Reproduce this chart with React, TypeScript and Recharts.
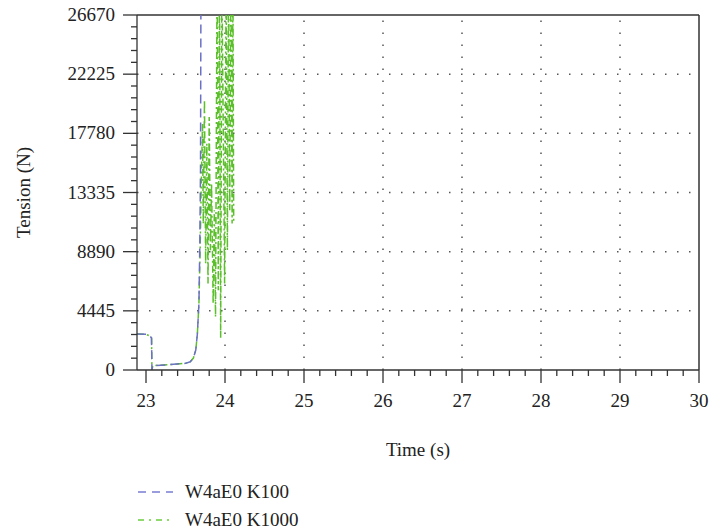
import React from "react";
import { LineChart, Line, XAxis, YAxis, ReferenceLine } from "recharts";

const blueT = [22.886, 23.0, 23.05, 23.07, 23.075, 23.085, 23.3, 23.5, 23.56, 23.6, 23.63, 23.65, 23.67, 23.68, 23.69, 23.7];
const blueV = [2700, 2680, 2560, 2400, 0, 330, 400, 500, 620, 900, 1500, 2700, 5000, 9000, 15000, 40000];

const greenT = [22.886, 23.0, 23.05, 23.07, 23.075, 23.085, 23.3, 23.5, 23.56, 23.6, 23.63, 23.65, 23.67, 23.685, 23.7, 23.715, 23.725, 23.74, 23.755, 23.77, 23.785, 23.8, 23.815, 23.83, 23.85, 23.865, 23.88, 23.9, 23.915, 23.93, 23.945, 23.96, 23.995, 24.015, 24.03, 24.045, 24.06, 24.075, 24.09, 24.1, 24.11];
const greenV = [2700, 2680, 2560, 2400, 0, 330, 400, 500, 620, 900, 1500, 2700, 5000, 9000, 14000, 18500, 11000, 20300, 8000, 17000, 6500, 19000, 9000, 14000, 5000, 12000, 4000, 30000, 6000, 30000, 2400, 30000, 6500, 30000, 9000, 30000, 12000, 30000, 11000, 30000, 11200];

const xTicks = Array.from({ length: 36 }, (_, i) => Math.round((23 + i * 0.2) * 10) / 10);
const yTicks = Array.from({ length: 31 }, (_, i) => i * 889);
const xGrid = [24, 25, 26, 27, 28, 29];
const yGrid = [4445, 8890, 13335, 17780, 22225];

const seriesNames = ["W4aE0 K100", "W4aE0 K1000"];
const blueData = blueT.map((t, i) => ({ t, v: blueV[i] }));
const greenData = greenT.map((t, i) => ({ t, v: greenV[i] }));

const FONT = "Liberation Serif";
const AX = "#333";
const BLUE = "#6c70c4";
const GREEN = "#5bbf2b";

const XTick = (props: any) => {
  const { x, y, payload } = props;
  const v = payload.value;
  const major = Math.abs(v - Math.round(v)) < 1e-6;
  return (
    <g>
      <line x1={x} y1={y} x2={x} y2={y + (major ? 13 : 6)} stroke={AX} strokeWidth={1.3} />
      {major && (
        <text x={x} y={y + 37} textAnchor="middle" fontFamily={FONT} fontSize={19} fill="#222">
          {Math.round(v)}
        </text>
      )}
    </g>
  );
};

const YTick = (props: any) => {
  const { x, y, payload } = props;
  const v = payload.value;
  const major = Math.round(v / 889) % 5 === 0;
  return (
    <g>
      <line x1={x} y1={y} x2={x - (major ? 14 : 6)} y2={y} stroke={AX} strokeWidth={1.3} />
      {major && (
        <text x={x - 22} y={y + 6} textAnchor="end" fontFamily={FONT} fontSize={19} fill="#222">
          {v}
        </text>
      )}
    </g>
  );
};

const LegendBox = () => (
  <div style={{ position: "absolute", left: 132, top: 478, fontFamily: FONT, fontSize: 19, color: "#222" }}>
    {[BLUE, GREEN].map((c, i) => (
      <div key={i} style={{ display: "flex", alignItems: "center", height: 28 }}>
        <svg width={53} height={10}>
          <line x1={6} y1={5} x2={41} y2={5} stroke={i === 0 ? "#7a7ed2" : "#6ccd3e"} strokeWidth={1.6} strokeDasharray={i === 0 ? "8 6" : "6 5 2 5"} />
        </svg>
        <span>{seriesNames[i]}</span>
      </div>
    ))}
  </div>
);

export default function App() {
  return (
    <div style={{ position: "absolute", left: 0, top: 0, width: 709, height: 531, background: "#fff" }}>
      <LineChart width={709} height={531} margin={{ top: 15, right: 10, left: 0, bottom: 0 }}>
        <XAxis
          dataKey="t"
          type="number"
          domain={[22.886, 30]}
          allowDataOverflow
          ticks={xTicks}
          interval={0}
          height={161}
          tickSize={0}
          tickMargin={0}
          tick={<XTick />}
          axisLine={{ stroke: AX, strokeWidth: 1.3 }}
          tickLine={false}
          label={{ value: "Time (s)", position: "insideTop", offset: 73, fontFamily: FONT, fontSize: 19, fill: "#222" }}
        />
        <YAxis
          type="number"
          domain={[0, 26670]}
          allowDataOverflow
          ticks={yTicks}
          interval={0}
          width={137}
          tickSize={0}
          tickMargin={0}
          tick={<YTick />}
          axisLine={{ stroke: AX, strokeWidth: 1.3 }}
          tickLine={false}
          label={{ value: "Tension (N)", angle: -90, position: "insideLeft", offset: 23, fontFamily: FONT, fontSize: 19, fill: "#222", style: { textAnchor: "middle" } }}
        />
        {xGrid.map((g) => (
          <ReferenceLine key={"x" + g} x={g} stroke="#555" strokeWidth={1.5} strokeDasharray="1.5 10.5" />
        ))}
        {yGrid.map((g) => (
          <ReferenceLine key={"y" + g} y={g} stroke="#555" strokeWidth={1.5} strokeDasharray="1.5 10.5" />
        ))}
        <ReferenceLine y={26670} stroke={AX} strokeWidth={1.5} />
        <ReferenceLine x={30} stroke={AX} strokeWidth={1.5} />
        <Line data={greenData} dataKey="v" stroke={GREEN} strokeWidth={1.5} strokeDasharray="7 3 2 3" dot={false} isAnimationActive={false} />
        <Line data={blueData} dataKey="v" stroke={BLUE} strokeWidth={1.5} strokeDasharray="9 5" dot={false} isAnimationActive={false} />
      </LineChart>
      <LegendBox />
    </div>
  );
}
